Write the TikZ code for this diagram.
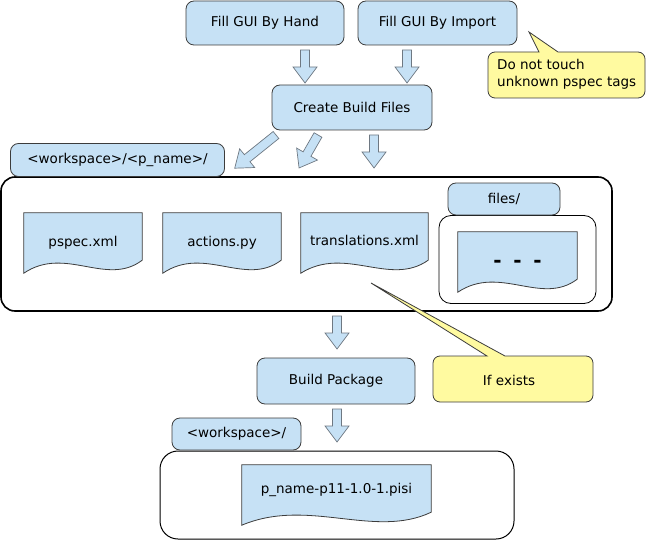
\documentclass[tikz,border=0pt]{standalone}
\usepackage{fontspec}
\setmainfont{DejaVu Sans}
\usetikzlibrary{calc}
\definecolor{boxblue}{RGB}{198,225,245}
\definecolor{noteyellow}{RGB}{255,250,160}
\definecolor{boxline}{RGB}{60,60,60}
\definecolor{arrline}{RGB}{110,120,130}
\pgfdeclarelayer{bg}\pgfdeclarelayer{mid}\pgfsetlayers{bg,mid,main}
\newcommand\docoutline[2]{%
  \path (#1.south west) ++(0,-#2) coordinate (#1-bl);
  \path (#1.south east) ++(0,-#2) coordinate (#1-br);
  \draw[docsty] (#1.north west) -- (#1.north east) -- ($(#1-br)+(0,13)$)
    .. controls ($(#1-bl)!0.7!(#1-br)+(0,-14)$) and ($(#1-bl)!0.35!(#1-br)+(0,28)$) .. (#1-bl) -- cycle;}
\begin{document}
\begin{tikzpicture}[x=1pt,y=1pt,
  font=\fontsize{13.5}{17}\selectfont,
  bluebox/.style={draw=boxline,line width=0.8pt,fill=boxblue,rounded corners=8pt,inner sep=0pt},
  container/.style={draw=black,fill=white,inner sep=0pt},
  doc/.style={inner sep=0pt},
  docsty/.style={draw=boxline,line width=0.8pt,fill=boxblue},
  callout/.style={draw=boxline,line width=0.8pt,fill=noteyellow},
  arrowsty/.style={draw=arrline,line width=0.7pt,fill=boxblue},
  pics/barrow/.style={code={\draw[arrowsty] (-4.5,0) -- (-4.5,{-#1+16}) -- (-12,{-#1+16}) -- (0,-#1) -- (12,{-#1+16}) -- (4.5,{-#1+16}) -- (4.5,0) -- cycle;}}]
\useasboundingbox (0,0) rectangle (647,-540);

% top boxes
\node[bluebox,minimum width=158,minimum height=44] (hand) at (265,-23) {Fill GUI By Hand};
\node[bluebox,minimum width=159,minimum height=44] (import) at (437.5,-23) {Fill GUI By Import};
\node[bluebox,minimum width=160,minimum height=45] (create) at (352,-107.5) {Create Build Files};
\node[bluebox,minimum width=214,minimum height=33] (wsname) at (117.5,-160) {<workspace>/<p\_name>/};

% containers
\begin{pgfonlayer}{bg}
\node[container,line width=1.6pt,minimum width=611,minimum height=134,rounded corners=14pt] (pkgdir) at (306.5,-244) {};
\node[container,line width=0.8pt,minimum width=157,minimum height=88,rounded corners=12pt] (filesdir) at (517.5,-259.5) {};
\node[container,line width=1pt,minimum width=354,minimum height=88,rounded corners=18pt] (outdir) at (337,-495) {};
\end{pgfonlayer}
\node[bluebox,minimum width=112,minimum height=32] (fileslabel) at (504,-199) {files/};

% documents
\node[doc,minimum width=118,minimum height=60] (pspec) at (83,-243) {pspec.xml};
\node[doc,minimum width=118,minimum height=60] (actions) at (222,-243) {actions.py};
\node[doc,minimum width=127,minimum height=54] (transl) at (364.5,-240) {translations.xml};
\node[doc,minimum width=119,minimum height=60,text height=11pt,text depth=0pt] (dots) at (517.5,-262) {\fontsize{20}{20}\bfseries -\hspace{11.8pt}-\hspace{11.8pt}-};
\node[doc,minimum width=189,minimum height=50] (pisi) at (336.5,-490) {p\_name-p11-1.0-1.pisi};
\begin{pgfonlayer}{mid}
\docoutline{pspec}{0}
\docoutline{actions}{0}
\docoutline{transl}{6}
\docoutline{dots}{0}
\docoutline{pisi}{10}
\end{pgfonlayer}

% lower boxes
\node[bluebox,minimum width=158,minimum height=46] (build) at (336,-381) {Build Package};
\node[bluebox,minimum width=129,minimum height=32] (ws) at (236.5,-434) {<workspace>/};

% block arrows
\pic at (305,-50) {barrow=33};
\pic at (407,-50) {barrow=33};
\pic[rotate=-51.2] at (276,-135) {barrow=53};
\pic[rotate=-29.9] at (318,-135) {barrow=38};
\pic at (374,-135) {barrow=33};
\pic at (337,-316) {barrow=33};
\pic at (337,-409) {barrow=33};

% callouts
\draw[callout] (558,-52) [rounded corners=7pt] -- (645,-52) -- (645,-98) -- (488,-98) -- (488,-52) -- (510,-52) [sharp corners] -- (539,-52) -- (529,-32) -- cycle;
\node[anchor=west,align=left,inner sep=0pt] (note1) at (497,-74.5) {Do not touch\\unknown pspec tags};
\draw[callout] (505,-356) [rounded corners=7pt] -- (593,-356) -- (593,-402) -- (433,-402) -- (433,-356) -- (460,-356) [sharp corners] -- (487,-356) -- (371,-283) -- cycle;
\node (note2) at (509,-380) {If exists};
\end{tikzpicture}
\end{document}
